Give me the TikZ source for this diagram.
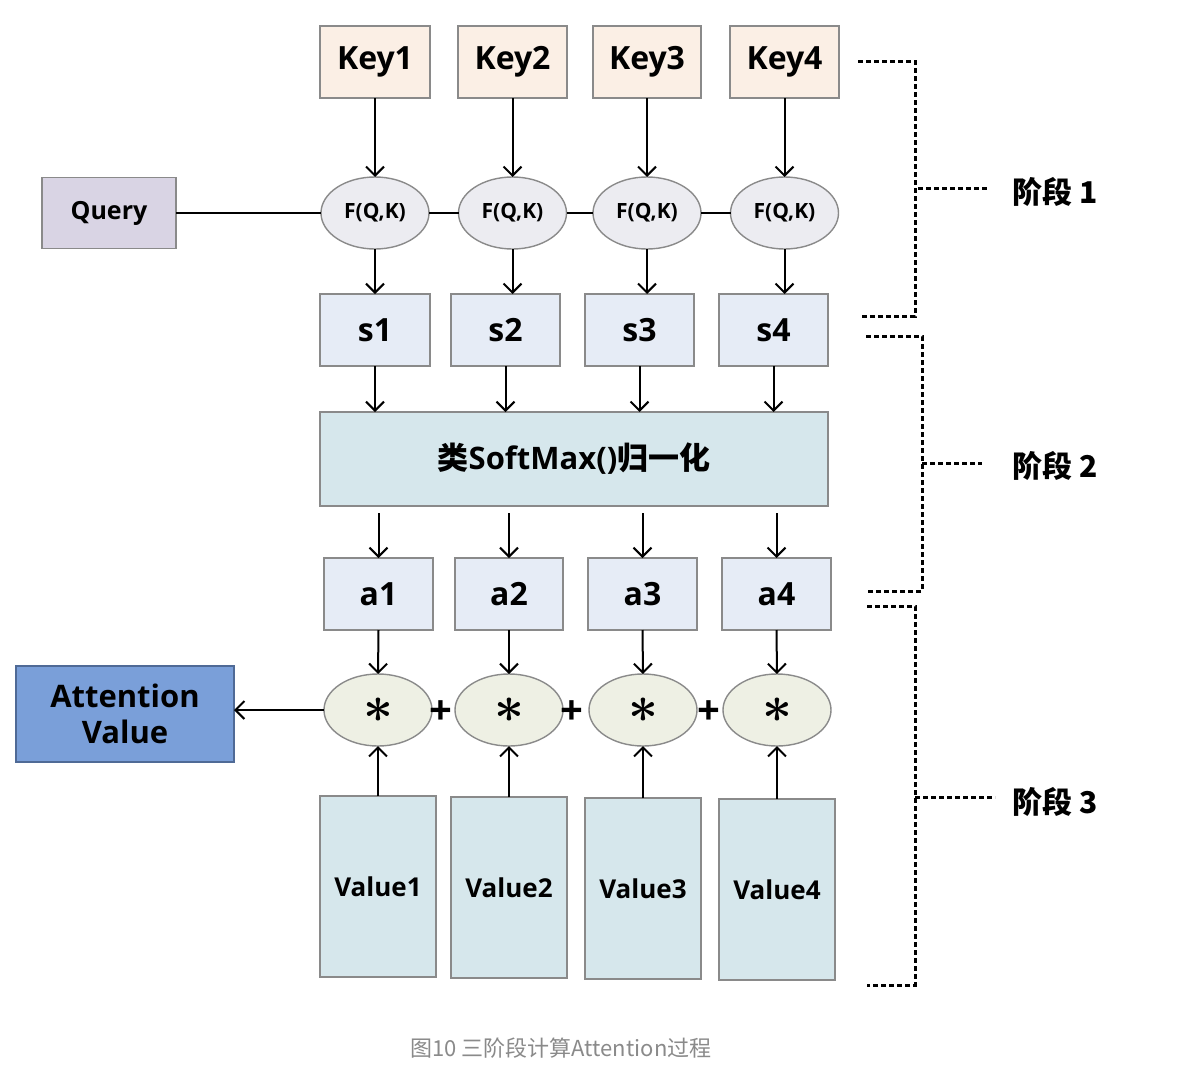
\documentclass[tikz,border=0pt]{standalone}
\usepackage{graphicx}
\usepackage{fontspec}
\setmainfont{Open Sans}
\newfontfamily\cjk{Noto Sans CJK SC}
\usetikzlibrary{arrows.meta,shapes.geometric}
\definecolor{bgray}{HTML}{8A8A8A}
\definecolor{keyfill}{HTML}{FBEFE5}
\definecolor{fqfill}{HTML}{ECECF1}
\definecolor{qfill}{HTML}{D9D4E4}
\definecolor{sfill}{HTML}{E6ECF6}
\definecolor{tfill}{HTML}{D6E7EC}
\definecolor{starfill}{HTML}{EEF0E4}
\definecolor{attfill}{HTML}{7A9FD9}
\definecolor{attborder}{HTML}{4F6A96}
\definecolor{capgray}{HTML}{8A8A8A}
\tikzset{
 bx/.style={draw=bgray, line width=1.4pt, inner sep=0pt, outer sep=0pt, align=center},
 keybox/.style={bx, fill=keyfill, minimum width=110pt, minimum height=72pt, font=\bfseries\fontsize{32}{36}\selectfont},
 sbox/.style={bx, fill=sfill, minimum width=109pt, minimum height=72pt, font=\bfseries\fontsize{32}{36}\selectfont},
 valbox/.style={bx, fill=tfill, minimum width=116pt, minimum height=181pt, font=\bfseries\fontsize{26}{30}\selectfont},
 fqell/.style={ellipse, draw=bgray, line width=1.4pt, fill=fqfill, minimum width=108pt, minimum height=72pt, inner sep=0pt, outer sep=0pt, font=\bfseries\fontsize{21}{24}\selectfont},
 starell/.style={ellipse, draw=bgray, line width=1.4pt, fill=starfill, minimum width=108pt, minimum height=72pt, inner sep=0pt, outer sep=0pt},
 plusn/.style={inner sep=0pt, font=\bfseries\fontsize{40}{44}\selectfont},
 arr/.style={-{Straight Barb[length=9pt,width=18pt]}, line width=2pt},
 ln/.style={line width=2pt},
 stagebr/.style={line width=3pt, dash pattern=on 5pt off 3pt},
 stagelbl/.style={font=\cjk\bfseries\fontsize{30}{34}\selectfont, anchor=west, inner sep=0pt},
}
\newcommand{\mystar}{\scalebox{5.2}{\boldmath$\ast$}}
\begin{document}
\begin{tikzpicture}[x=1pt,y=-1pt]
\useasboundingbox (0,0) rectangle (1200,1074);
\fill[white] (0,0) rectangle (1200,1074);
% keys
\node[keybox] (k1) at (375,62) {Key1};
\node[keybox, minimum width=109pt] (k2) at (512.5,62) {Key2};
\node[keybox, minimum width=108pt] (k3) at (647,62) {Key3};
\node[keybox, minimum width=109pt] (k4) at (784.5,62) {Key4};
% query
\node[bx, fill=qfill, minimum width=134pt, minimum height=71pt, font=\bfseries\fontsize{25}{28}\selectfont] (q) at (109,213) {Query};
% F(Q,K)
\node[fqell] (f1) at (375,213) {F(Q,K)};
\node[fqell] (f2) at (512.5,213) {F(Q,K)};
\node[fqell] (f3) at (647,213) {F(Q,K)};
\node[fqell] (f4) at (784.5,213) {F(Q,K)};
% s
\node[sbox, minimum width=110pt] (s1) at (375,330) {s1};
\node[sbox] (s2) at (505.5,330) {s2};
\node[sbox] (s3) at (639.5,330) {s3};
\node[sbox] (s4) at (773.5,330) {s4};
% softmax
\node[bx, fill=tfill, minimum width=508pt, minimum height=94pt, font=\bfseries\fontsize{31}{34}\selectfont] (sm) at (574,459) {{\cjk\bfseries 类}SoftMax(){\cjk\bfseries 归一化}};
% a
\node[sbox] (a1) at (378.5,594) {a1};
\node[sbox, minimum width=108pt] (a2) at (509,594) {a2};
\node[sbox] (a3) at (642.5,594) {a3};
\node[sbox] (a4) at (776.5,594) {a4};
% stars
\node[starell] (m1) at (378,710) {\mystar};
\node[starell] (m2) at (509,710) {\mystar};
\node[starell] (m3) at (643,710) {\mystar};
\node[starell] (m4) at (777,710) {\mystar};
\node[plusn] (p1) at (441,713) {+};
\node[plusn] (p2) at (572,713) {+};
\node[plusn] (p3) at (709,713) {+};
% attention
\node[bx, draw=attborder, fill=attfill, minimum width=218pt, minimum height=96pt, font=\bfseries\fontsize{31}{36}\selectfont] (att) at (125,714) {Attention\\Value};
% values
\node[valbox] (v1) at (378,886.5) {Value1};
\node[valbox] (v2) at (509,887.5) {Value2};
\node[valbox] (v3) at (643,888.5) {Value3};
\node[valbox] (v4) at (777,889.5) {Value4};
% connectors stage 1
\foreach \i in {1,2,3,4}{\draw[arr] (k\i) -- (f\i);}
\draw[ln] (q.east) -- (f1.west);
\draw[ln] (f1.east) -- (f2.west);
\draw[ln] (f2.east) -- (f3.west);
\draw[ln] (f3.east) -- (f4.west);
\draw[arr] (f1.south) -- (f1.south |- s1.north);
\draw[arr] (f2.south) -- (f2.south |- s2.north);
\draw[arr] (f3.south) -- (f3.south |- s3.north);
\draw[arr] (f4.south) -- (f4.south |- s4.north);
% stage 2
\foreach \i in {1,2,3,4}{\draw[arr] (s\i.south) -- (s\i.south |- sm.north);}
\foreach \i in {1,2,3,4}{\draw[arr, shorten <=7pt] (a\i.north |- sm.south) -- (a\i.north);}
% stage 3
\foreach \i in {1,2,3,4}{\draw[arr] (a\i.south) -- (m\i.north);}
\foreach \i in {1,2,3,4}{\draw[arr] (v\i.north) -- (m\i.south);}
\draw[arr] (m1.west) -- (m1.west -| att.east);
% brackets
\coordinate (b1t) at (858,61); \coordinate (b1b) at (862,316);
\draw[stagebr] (b1t) -- (915,61) -- (915,316) -- (b1b);
\coordinate (b1m) at (988,188);
\draw[stagebr] (918,188) -- (b1m);
\node[stagelbl] (st1) at (1012,192) {阶段 1};
\coordinate (b2t) at (866,336); \coordinate (b2b) at (868,591);
\draw[stagebr] (b2t) -- (922,336) -- (922,591) -- (b2b);
\coordinate (b2m) at (982,463);
\draw[stagebr] (922,463) -- (b2m);
\node[stagelbl] (st2) at (1012,466) {阶段 2};
\coordinate (b3t) at (867,606); \coordinate (b3b) at (867,985);
\draw[stagebr] (b3t) -- (915,606) -- (915,985) -- (b3b);
\coordinate (b3m) at (995,797);
\draw[stagebr] (915,797) -- (b3m);
\node[stagelbl] (st3) at (1012,802) {阶段 3};
% caption
\node[font=\cjk\fontsize{22}{26}\selectfont, text=capgray, inner sep=0pt] (cap) at (561,1048) {图10 三阶段计算Attention过程};
\end{tikzpicture}
\end{document}
